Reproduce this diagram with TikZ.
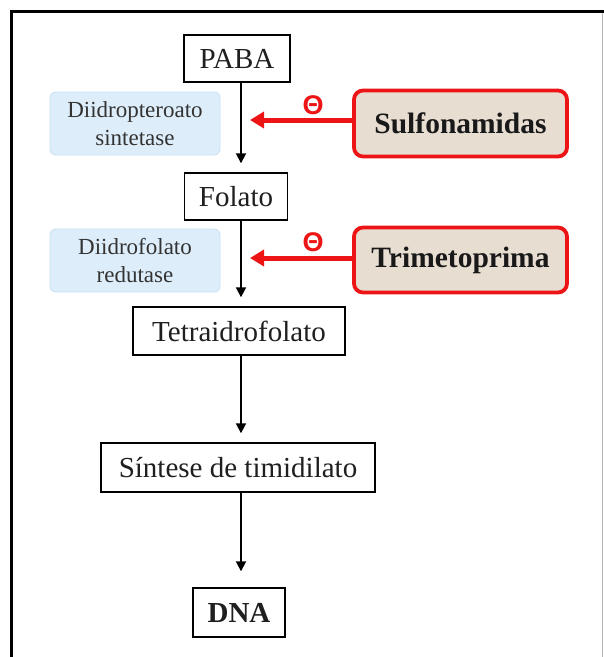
\documentclass[tikz,border=0pt]{standalone}
\usepackage{fontspec}
\setmainfont{Liberation Serif}
\newfontfamily\thetafont{Liberation Sans}
\usetikzlibrary{arrows.meta,calc}
\definecolor{inhred}{RGB}{236,20,20}
\definecolor{tanfill}{RGB}{231,221,209}
\definecolor{bluefill}{RGB}{221,238,250}
\definecolor{blueedge}{RGB}{200,224,242}
\begin{document}
\begin{tikzpicture}[x=1pt,y=-1pt,
  stepbox/.style={draw=black,line width=1.4pt,fill=white,inner sep=0pt,align=center,font=\fontsize{29}{33}\selectfont,text=black!88},
  enzbox/.style={draw=blueedge,line width=0.8pt,fill=bluefill,rounded corners=6pt,inner sep=0pt,align=center,font=\fontsize{23}{28}\selectfont,text=black!80,minimum width=170pt,minimum height=63pt},
  drugbox/.style={draw=inhred,line width=3.8pt,fill=tanfill,rounded corners=9pt,inner sep=0pt,align=center,font=\fontsize{29.5}{33}\selectfont\bfseries,text=black!90,minimum width=213pt},
  flow/.style={draw=black,line width=1.8pt,-{Triangle[length=10pt,width=10pt]},shorten >=9pt},
  inh/.style={draw=inhred,line width=5pt,-{Triangle[length=14pt,width=16pt]}},
  theta/.style={text=inhred,font=\thetafont\bfseries\fontsize{27}{29}\selectfont,inner sep=0pt}]
\useasboundingbox (0,0) rectangle (604,657);
% frame
\draw[black!30,line width=0.8pt] (602,11.5) -- (602,657);
\draw[black,line width=3pt] (604,11.5) -- (11.5,11.5) -- (11.5,657);
% spine and tips
\coordinate (spine) at (241,0);
\coordinate (tipx) at (250,0);
% main pathway
\node[stepbox,minimum width=106pt,minimum height=47pt] (paba) at (237,58.5) {PABA};
\node[stepbox,minimum width=103pt,minimum height=47pt] (folato) at (236,196.5) {Folato};
\node[stepbox,minimum width=212pt,minimum height=48pt] (tetra) at (239,331) {Tetraidrofolato};
\node[stepbox,minimum width=274pt,minimum height=49pt] (sintese) at (238,467.5) {Síntese de timidilato};
\node[stepbox,minimum width=92pt,minimum height=49pt,font=\fontsize{29}{33}\selectfont\bfseries] (dna) at (239,612.5) {DNA};
% enzymes
\node[enzbox] (dhps) at (135,123.5) {Diidropteroato\\sintetase};
\node[enzbox] (dhfr) at (135,260.5) {Diidrofolato\\redutase};
% drugs
\node[drugbox,minimum height=66pt] (sulfo) at (460.5,123.5) {Sulfonamidas};
\node[drugbox,minimum height=65pt] (trim) at (460.5,260) {Trimetoprima};
% flow arrows
\draw[flow] (paba.south -| spine) -- (folato.north -| spine);
\draw[flow] (folato.south -| spine) -- (tetra.north -| spine);
\draw[flow] (tetra.south -| spine) -- (sintese.north -| spine);
\draw[flow,shorten >=16pt] (sintese.south -| spine) -- (dna.north -| spine);
% inhibition arrows
\draw[inh] ([yshift=3.5pt]sulfo.west) -- ([yshift=3.5pt]sulfo.west -| tipx);
\draw[inh] ([yshift=2pt]trim.west) -- ([yshift=2pt]trim.west -| tipx);
\node[theta] (t1) at (313,105) {Θ};
\node[theta] (t2) at (313,242) {Θ};
\end{tikzpicture}
\end{document}
